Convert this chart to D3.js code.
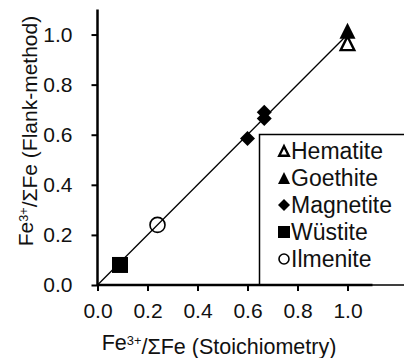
<!DOCTYPE html>
<html>
<head>
<meta charset="utf-8">
<script src="https://cdn.jsdelivr.net/npm/d3@7"></script>
<style>
  html, body { margin: 0; padding: 0; background: #fff; }
  svg { display: block; font-family: "Liberation Sans", Arial, sans-serif; }
</style>
</head>
<body>
<svg id="chart" width="404" height="358"></svg>
<script>
// Fe3+/ΣFe measured by the flank method vs. the stoichiometric value
const minerals    = ["Hematite", "Goethite", "Magnetite", "Wüstite", "Ilmenite"];
const pointMineral = ["Hematite", "Goethite", "Magnetite", "Magnetite", "Magnetite", "Wüstite", "Ilmenite"];
const stoichValues = [1.0, 1.0, 0.6, 0.667, 0.667, 0.09, 0.24];
const flankValues  = [0.965, 1.015, 0.585, 0.665, 0.69, 0.08, 0.24];
const oneToOne     = [0, 1.0];
const xTicks = [0, 0.2, 0.4, 0.6, 0.8, 1.0];
const yTicks = [0, 0.2, 0.4, 0.6, 0.8, 1.0];

const svg = d3.select("#chart");
const x = d3.scaleLinear().domain([0, 1.1]).range([97.5, 372.5]);
const y = d3.scaleLinear().domain([0, 1.1]).range([285, 9.5]);

// marker shapes, drawn as plain paths around (0,0)
function shape(kind, s) {
  const h = s / 2;
  switch (kind) {
    case "Hematite":
    case "Goethite":
      return `M0,${-h}L${h},${h}L${-h},${h}Z`;
    case "Magnetite":
      return `M0,${-h}L${h},0L0,${h}L${-h},0Z`;
    case "Wüstite":
      return `M${-h},${-h}H${h}V${h}H${-h}Z`;
    default:
      return null;
  }
}
function drawMarker(g, kind, s) {
  if (kind === "Ilmenite") {
    g.append("circle").attr("r", s / 2 - 1)
      .attr("fill", "none").attr("stroke", "#000").attr("stroke-width", 1.6);
  } else if (kind === "Hematite") {
    const h = s / 2 - 1.2;
    g.append("path").attr("d", `M0,${-h}L${h},${h}L${-h},${h}Z`)
      .attr("fill", "#fff").attr("stroke", "#000").attr("stroke-width", 2.4)
      .attr("stroke-linejoin", "miter");
  } else {
    g.append("path").attr("d", shape(kind, s)).attr("fill", "#000");
  }
}

// legend frame (runs off the right edge)
svg.append("rect")
  .attr("x", 259.5).attr("y", 134.5)
  .attr("width", 200).attr("height", y(0) - 134.5)
  .attr("fill", "#fff").attr("stroke", "#000").attr("stroke-width", 1.5);

const legend = svg.append("g");
minerals.forEach((m, i) => {
  const cy = 151 + i * 27;
  const g = legend.append("g").attr("transform", `translate(284,${cy})`);
  drawMarker(g, m, 12);
  legend.append("text")
    .attr("x", 291).attr("y", cy + 7.8)
    .attr("font-size", 23).attr("fill", "#111")
    .text(m);
});

// 1:1 line
svg.append("line")
  .attr("x1", x(oneToOne[0])).attr("y1", y(oneToOne[0]))
  .attr("x2", x(oneToOne[1])).attr("y2", y(oneToOne[1]))
  .attr("stroke", "#000").attr("stroke-width", 1.3);

// data markers
const pts = stoichValues.map((v, i) => ({ sx: v, fy: flankValues[i], m: pointMineral[i] }));
pts.forEach(p => {
  const size = p.m === "Magnetite" ? 15 : p.m === "Ilmenite" ? 17 : 16;
  const g = svg.append("g").attr("transform", `translate(${x(p.sx)},${y(p.fy)})`);
  drawMarker(g, p.m, size);
});

// axes
const fmt = d3.format(".1f");
const xAxis = svg.append("g").attr("transform", `translate(0,${y(0)})`)
  .call(d3.axisBottom(x).tickValues(xTicks).tickFormat(fmt).tickSize(6).tickPadding(12));
const yAxis = svg.append("g").attr("transform", `translate(${x(0)},0)`)
  .call(d3.axisLeft(y).tickValues(yTicks).tickFormat(fmt).tickSize(6).tickPadding(19));
[xAxis, yAxis].forEach(a => {
  a.select(".domain").attr("stroke", "#000").attr("stroke-width", 2.5);
  a.selectAll(".tick line").attr("stroke", "#000").attr("stroke-width", 2);
  a.selectAll(".tick text").attr("font-size", 21).attr("fill", "#111")
    .attr("font-family", "Liberation Sans, Arial, sans-serif");
});
// plain axis lines without end caps
xAxis.select(".domain").attr("d", `M${x(0)},0H${x(1.1)}`);
yAxis.select(".domain").attr("d", `M0,${y(0)}V${y(1.1)}`);

// axis titles with superscript charge
function title(sel, before, after) {
  sel.append("tspan").text(before);
  sel.append("tspan").attr("font-size", "60%").attr("dy", "-0.42em").text("3+");
  sel.append("tspan").attr("dy", "0.42em").text(after);
}
const xt = svg.append("text")
  .attr("x", 219).attr("y", 350).attr("text-anchor", "middle")
  .attr("font-size", 21.5).attr("fill", "#111");
title(xt, "Fe", "/ΣFe (Stoichiometry)");

const yt = svg.append("text")
  .attr("transform", `translate(33,131) rotate(-90)`)
  .attr("text-anchor", "middle")
  .attr("font-size", 21).attr("fill", "#111");
title(yt, "Fe", "/ΣFe (Flank-method)");
</script>
</body>
</html>
